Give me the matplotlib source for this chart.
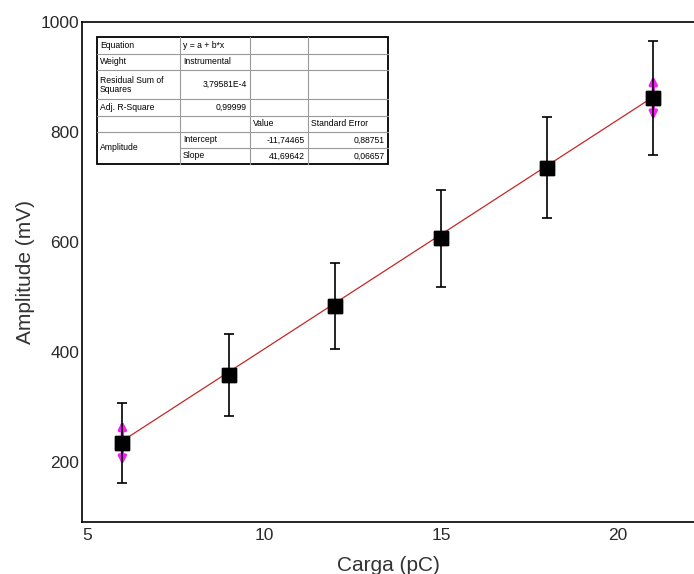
import matplotlib
matplotlib.use("Agg")
import matplotlib.pyplot as plt
from matplotlib.lines import Line2D

# data
carga = [6, 9, 12, 15, 18, 21]
amplitude = [235, 358, 484, 607, 735, 862]
amp_err = [73, 74, 78, 88, 92, 103]
arrow_idx = [0, 5]

# linear fit parameters (from the inset table)
fit_a = -11.74465
fit_b = 41.69642

x_ticks = [5, 10, 15, 20]
y_ticks = [200, 400, 600, 800, 1000]

table_rows = [
    ["Equation", "y = a + b*x", "", ""],
    ["Weight", "Instrumental", "", ""],
    ["Residual Sum of\nSquares", "3,79581E-4", "", ""],
    ["Adj. R-Square", "0,99999", "", ""],
    ["", "", "Value", "Standard Error"],
    ["Amplitude", "Intercept", "-11,74465", "0,88751"],
    ["", "Slope", "41,69642", "0,06657"],
]

plt.rcParams["font.family"] = ["Liberation Sans", "DejaVu Sans"]

W, H = 694, 574
fig = plt.figure(figsize=(W / 100, H / 100), dpi=100)
ax = fig.add_axes([82 / W, 1 - 522 / H, 1 - 82 / W, (522 - 22) / H])

ax.set_xlim(4.86, 22.15)
ax.set_ylim(91, 1000)
ax.set_xticks(x_ticks)
ax.set_yticks(y_ticks)
ax.tick_params(length=0, labelsize=12.5, labelcolor="#2a2a2a")
ax.tick_params(axis="y", pad=2)
ax.tick_params(axis="x", pad=4)
ax.spines["right"].set_visible(False)
for s in ["left", "bottom", "top"]:
    ax.spines[s].set_linewidth(1.2)

# fit line
xf = [carga[0], carga[-1]]
ax.plot(xf, [fit_a + fit_b * v for v in xf], color="#c42828", lw=0.9, zorder=2)

ax.errorbar(carga, amplitude, yerr=amp_err, fmt="s", color="black",
            ecolor="black", elinewidth=1.2, capsize=3.8, capthick=1.2,
            markersize=10, zorder=3)

arrow_len = 40
for i in arrow_idx:
    for sign in (1, -1):
        ax.annotate("", xy=(carga[i], amplitude[i] + sign * arrow_len),
                    xytext=(carga[i], amplitude[i]),
                    arrowprops=dict(arrowstyle="-|>", color="#f020f0", lw=2.4,
                                    mutation_scale=11, shrinkA=0, shrinkB=0),
                    zorder=2.5)
ax.plot(carga, amplitude, "s", color="black", markersize=10, zorder=4)

ax.set_xlabel("Carga (pC)", fontsize=15, color="#333333", labelpad=10)
ax.set_ylabel("Amplitude (mV)", fontsize=15, color="#333333", labelpad=4)

# inset fit table, drawn in figure pixels
def fx(px):
    return px / W

def fy(py):
    return 1 - py / H

cols = [97, 180, 250, 308, 388]
rows = [37, 54, 70, 99, 116, 132, 148, 164]
tf = fig.transFigure
fig.patches.append(plt.Rectangle((fx(cols[0]), fy(rows[-1])),
                                 fx(cols[-1]) - fx(cols[0]), fy(rows[0]) - fy(rows[-1]),
                                 transform=tf, facecolor="white", edgecolor="black",
                                 lw=1.3, zorder=5))
lc = "#999999"
for r in rows[1:-1]:
    x0 = cols[1] if r == rows[6] else cols[0]
    fig.add_artist(Line2D([fx(x0), fx(cols[-1])], [fy(r), fy(r)], transform=tf,
                          color=lc, lw=0.8, zorder=6))
for c in cols[1:-1]:
    fig.add_artist(Line2D([fx(c), fx(c)], [fy(rows[0]), fy(rows[-1])], transform=tf,
                          color=lc, lw=0.8, zorder=6))

fs = 6.2
for ri, row in enumerate(table_rows):
    ymid = (rows[ri] + rows[ri + 1]) / 2
    for ci, txt in enumerate(row):
        if not txt:
            continue
        yy = ymid
        if ri == 5 and ci == 0:
            yy = rows[6]
        right = ci >= 1 and (ri in (2, 3) or ri >= 5) and not (ci == 1 and ri >= 5)
        if right:
            fig.text(fx(cols[ci + 1] - 3), fy(yy), txt, ha="right", va="center",
                     fontsize=fs, transform=tf, zorder=7, linespacing=1.0)
        else:
            fig.text(fx(cols[ci] + 3), fy(yy), txt, ha="left", va="center",
                     fontsize=fs, transform=tf, zorder=7, linespacing=1.0)

fig.savefig("out.png", dpi=100)
